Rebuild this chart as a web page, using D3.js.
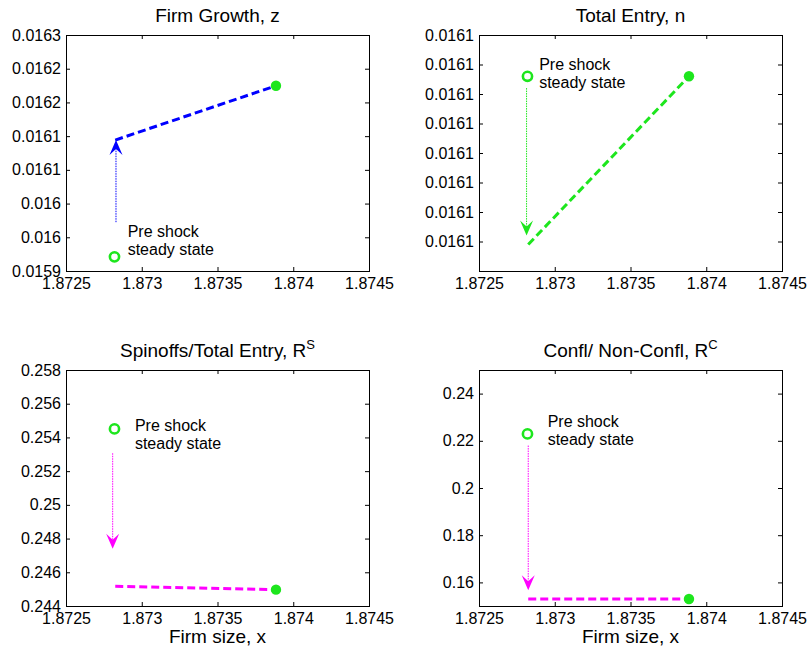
<!DOCTYPE html>
<html>
<head>
<meta charset="utf-8">
<script src="https://cdn.jsdelivr.net/npm/d3@7"></script>
<style>
body { margin: 0; background: #fff; }
text { font-family: "Liberation Sans", Arial, sans-serif; fill: #000; }
</style>
</head>
<body>
<svg id="svg1" width="810" height="656"></svg>
<script>
// x axis is the same for all four panels
var xDomain = [1.8725, 1.8745];
var xTicks = [1.8725, 1.873, 1.8735, 1.874, 1.8745];

var titles = ["Firm Growth, z", "Total Entry, n", "Spinoffs/Total Entry, R", "Confl/ Non-Confl, R"];
var titleSup = ["", "", "S", "C"];
var xLabels = ["", "", "Firm size, x", "Firm size, x"];

var yDomains = [[0.01592, 0.01627], [0.016110, 0.016118], [0.244, 0.258], [0.15, 0.25]];
var yTicks = [
  [0.01592, 0.01597, 0.01602, 0.01607, 0.01612, 0.01617, 0.01622, 0.01627],
  [0.016111, 0.016112, 0.016113, 0.016114, 0.016115, 0.016116, 0.016117, 0.016118],
  [0.244, 0.246, 0.248, 0.25, 0.252, 0.254, 0.256, 0.258],
  [0.16, 0.18, 0.2, 0.22, 0.24]
];

// pre shock steady state (open circle)
var preX = 1.87282;
var preY = [0.015941, 0.0161166, 0.254506, 0.22293];

// new steady state (filled dot)
var postX = 1.873886;
var postY = [0.0161947, 0.0161166, 0.244971, 0.15296];

// transition path: first point after the shock -> new steady state
var pathX = [1.872825, 1.873886];
var pathY = [
  [0.0161142, 0.0161947],
  [0.0161109, 0.0161166],
  [0.245167, 0.244971],
  [0.15297, 0.15296]
];

// dotted arrows: pre shock -> jump after the shock
var arrowX = [1.87283, 1.872814, 1.872808, 1.872825];
var arrowY = [
  [0.0159924, 0.0161142],
  [0.0161162, 0.0161112],
  [0.253061, 0.2474],
  [0.21798, 0.15664]
];

// "Pre shock steady state" note (left edge, first baseline)
var noteX = [1.872907, 1.872897, 1.872955, 1.872953];
var noteY = [0.0159707, 0.0161168, 0.254405, 0.22572];

var lineColors = ["#0000ff", "#1de61d", "#ff00ff", "#ff00ff"];
var dotColor = "#1de61d";

var svg = d3.select("#svg1");
var pw = 303, ph = 236;
var origins = [[66, 35], [479, 35], [66, 370], [479, 370]];

titles.forEach(function(title, i) {
  var g = svg.append("g")
      .attr("transform", "translate(" + origins[i][0] + "," + origins[i][1] + ")");

  var x = d3.scaleLinear().domain(xDomain).range([0, pw]);
  var y = d3.scaleLinear().domain(yDomains[i]).range([ph, 0]);

  // axes, ticks pointing inwards on all four sides
  var bottom = g.append("g")
      .attr("transform", "translate(0," + ph + ")")
      .call(d3.axisBottom(x).tickValues(xTicks).tickSizeInner(-4).tickSizeOuter(0)
            .tickPadding(7).tickFormat(d3.format("~g")));
  var left = g.append("g")
      .call(d3.axisLeft(y).tickValues(yTicks[i]).tickSizeInner(-4).tickSizeOuter(0)
            .tickPadding(5).tickFormat(d3.format(".3~r")));
  g.append("g")
      .call(d3.axisTop(x).tickValues(xTicks).tickSizeInner(-4).tickSizeOuter(0).tickFormat(""));
  g.append("g")
      .attr("transform", "translate(" + pw + ",0)")
      .call(d3.axisRight(y).tickValues(yTicks[i]).tickSizeInner(-4).tickSizeOuter(0).tickFormat(""));

  g.selectAll(".domain").remove();
  g.selectAll(".tick line").attr("stroke", "#000");
  [bottom, left].forEach(function(a) {
    a.attr("font-size", null).attr("font-family", null);
    a.selectAll("text").style("font-size", "16px").attr("fill", "#000");
  });

  g.append("rect")
      .attr("x", 0.5).attr("y", 0.5)
      .attr("width", pw).attr("height", ph)
      .attr("fill", "none")
      .attr("stroke", "#000")
      .attr("stroke-width", 1);

  // title
  var t = g.append("text")
      .attr("x", pw / 2)
      .attr("y", -13)
      .attr("text-anchor", "middle")
      .style("font-size", "19px")
      .text(title);
  if (titleSup[i]) {
    t.append("tspan")
        .attr("dy", -8)
        .style("font-size", "13px")
        .text(titleSup[i]);
  }

  if (xLabels[i]) {
    g.append("text")
        .attr("x", pw / 2)
        .attr("y", ph + 37)
        .attr("text-anchor", "middle")
        .style("font-size", "19px")
        .text(xLabels[i]);
  }

  // dotted arrow from the old steady state
  var ax = x(arrowX[i]);
  var ay0 = y(arrowY[i][0]), ay1 = y(arrowY[i][1]);
  g.append("line")
      .attr("x1", ax).attr("y1", ay0)
      .attr("x2", ax).attr("y2", ay1 + (ay1 > ay0 ? -6 : 6))
      .attr("stroke", lineColors[i])
      .attr("stroke-width", 1)
      .attr("stroke-dasharray", "1.5,1");

  var dir = ay1 > ay0 ? 1 : -1;
  var L = 15, W = 6.5, N = 9;
  g.append("path")
      .attr("d", "M" + ax + "," + ay1 +
                 "L" + (ax - W) + "," + (ay1 - dir * L) +
                 "L" + ax + "," + (ay1 - dir * N) +
                 "L" + (ax + W) + "," + (ay1 - dir * L) + "Z")
      .attr("fill", lineColors[i]);

  // dashed transition path
  var line = d3.line()
      .x(function(d) { return x(d[0]); })
      .y(function(d) { return y(d[1]); });
  g.append("path")
      .datum([[pathX[0], pathY[i][0]], [pathX[1], pathY[i][1]]])
      .attr("d", line)
      .attr("fill", "none")
      .attr("stroke", lineColors[i])
      .attr("stroke-width", 3)
      .attr("stroke-dasharray", "8,4");

  // old and new steady states
  g.append("circle")
      .attr("cx", x(preX)).attr("cy", y(preY[i]))
      .attr("r", 4.6)
      .attr("fill", "#fff")
      .attr("stroke", dotColor)
      .attr("stroke-width", 2.6);
  g.append("circle")
      .attr("cx", x(postX)).attr("cy", y(postY[i]))
      .attr("r", 5.2)
      .attr("fill", dotColor);

  var note = g.append("text")
      .attr("x", x(noteX[i]))
      .attr("y", y(noteY[i]))
      .style("font-size", "16px");
  note.append("tspan").text("Pre shock");
  note.append("tspan").attr("x", x(noteX[i])).attr("dy", 18).text("steady state");
});
</script>
</body>
</html>
